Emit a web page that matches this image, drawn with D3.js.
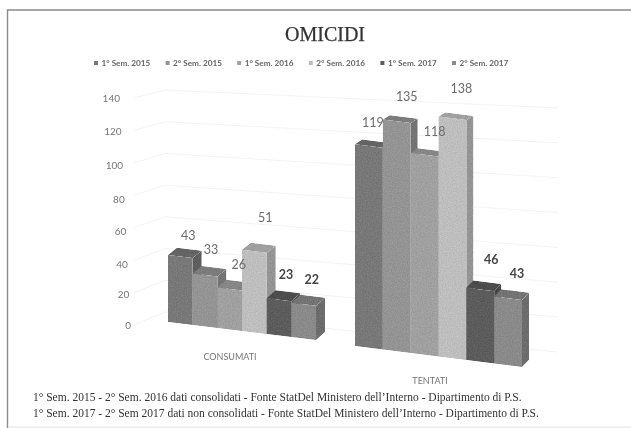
<!DOCTYPE html>
<html><head><meta charset="utf-8">
<script src="https://cdn.jsdelivr.net/npm/d3@7"></script>
<style>html,body{margin:0;padding:0;background:#fff}svg{display:block}</style>
</head><body><script>
const chartTitle = "OMICIDI";
const categories = ["CONSUMATI", "TENTATI"];
const seriesNames = ["1° Sem. 2015", "2° Sem. 2015", "1° Sem. 2016", "2° Sem. 2016", "1° Sem. 2017", "2° Sem. 2017"];
const consumati = [43, 33, 26, 51, 23, 22];
const tentati = [119, 135, 118, 138, 46, 43];
const tickValues = [0, 20, 40, 60, 80, 100, 120, 140];
const footnotes = [
  "1° Sem. 2015 - 2° Sem. 2016 dati consolidati - Fonte StatDel Ministero dell’Interno - Dipartimento di P.S.",
  "1° Sem. 2017 - 2° Sem 2017 dati non consolidati - Fonte StatDel Ministero dell’Interno - Dipartimento di P.S."
];

const W = 631, H = 428;
const front = ["#787878", "#949494", "#a0a0a0", "#bebebe", "#5c5c5c", "#8a8a8a"];
const boldLabel = [false, false, false, false, true, true];
const sans = "Lato, 'Open Sans', sans-serif", serif = "'Liberation Serif', serif";

const svg = d3.select("body").append("svg").attr("width", W).attr("height", H);
const defs = svg.append("defs");
const f = defs.append("filter").attr("id", "scan").attr("x", 0).attr("y", 0).attr("width", 1).attr("height", 1);
f.append("feGaussianBlur").attr("stdDeviation", 0.45);
const n = defs.append("filter").attr("id", "grain").attr("x", 0).attr("y", 0).attr("width", 1).attr("height", 1)
  .attr("color-interpolation-filters", "sRGB");
n.append("feTurbulence").attr("type", "fractalNoise").attr("baseFrequency", 0.8).attr("numOctaves", 2).attr("seed", 4).attr("result", "t");
n.append("feColorMatrix").attr("in", "t").attr("type", "matrix")
  .attr("values", "1 0 0 0 0  1 0 0 0 0  1 0 0 0 0  0 0 0 0 1").attr("result", "g");
n.append("feComposite").attr("in", "SourceGraphic").attr("in2", "g").attr("operator", "arithmetic")
  .attr("k1", 0).attr("k2", 1).attr("k3", 0.12).attr("k4", -0.06).attr("result", "m");
n.append("feComposite").attr("in", "m").attr("in2", "SourceAlpha").attr("operator", "in");

const root = svg.append("g").attr("filter", "url(#scan)");
root.append("rect").attr("width", W).attr("height", H).attr("fill", "#fff");
root.append("path").attr("d", d3.line()([[7.5, 428], [7.5, 10], [631, 10]]))
  .attr("fill", "none").attr("stroke", "#8c8c8c").attr("stroke-width", 1.4);
root.append("path").attr("d", d3.line()([[8, 427], [631, 427]]))
  .attr("fill", "none").attr("stroke", "#e2e2e2").attr("stroke-width", 1);

root.append("text").attr("x", 325).attr("y", 41).attr("text-anchor", "middle")
  .attr("font-family", serif).attr("font-size", 20).attr("fill", "#333")
  .attr("stroke", "#333").attr("stroke-width", 0.25).text(chartTitle);

// legend
const legendX = d3.scalePoint().domain(seriesNames).range([94, 452]);
const lg = root.append("g").selectAll("g").data(seriesNames).join("g")
  .attr("transform", d => `translate(${legendX(d)},63)`);
lg.append("rect").attr("x", 0).attr("y", -2).attr("width", 4).attr("height", 4).attr("fill", (d, i) => front[i]);
lg.append("text").attr("x", 7.5).attr("y", 3).attr("font-family", sans).attr("font-size", 8.2)
  .attr("font-weight", 700).attr("fill", "#666").text(d => d);

// value axis labels (slightly non-linear, the original is a perspective view)
const yTick = d3.scaleLinear().domain([0, 40, 80, 140]).range([325, 264, 199, 98]);
const xTick = d3.scaleLinear().domain([0, 140]).range([131, 120]);
root.append("g").selectAll("text").data(tickValues).join("text")
  .attr("x", d => xTick(d)).attr("y", d => yTick(d) + 3.5).attr("text-anchor", "end")
  .attr("font-family", sans).attr("font-size", 10).attr("fill", "#777").text(d => d);

// gridlines on side wall and back wall
const wallLeft = d3.scaleLinear().domain([0, 140]).range([325, 98]);
const backLeft = d3.scaleLinear().domain([0, 140]).range([312, 90]);
const backRight = d3.scaleLinear().domain([0, 140]).range([352, 108]);
const grid = root.append("g").attr("fill", "none").attr("stroke", "#f3f3f3").attr("stroke-width", 1);
grid.selectAll("path").data(tickValues).join("path")
  .attr("d", d => d3.line()([[134, wallLeft(d)], [165, backLeft(d)], [558, backRight(d)]]));

// bars in a perspective projection
const groups = [
  {name: categories[0], values: consumati, x0: 168, x1: 316, base0: 322, base1: 340, dx: 9, labelX: 230, labelY: 360,
   labelDx: [8, 6, 9, 11, 7, 8], labelDy: [-20, -24, -23, -32, -24, -23]},
  {name: categories[1], values: tentati, x0: 355, x1: 522, base0: 346, base1: 367, dx: 7, labelX: 430, labelY: 384,
   labelDx: [4, 10, 10, 9, 11, 9], labelDy: [-22, -23, -22, -28, -28, -23]}
];
const barH = d3.scaleLinear().domain([0, 43, 118, 135, 138]).range([0, 67, 200, 230, 240]);
const depthY = d3.scaleLinear().domain([20, 140]).range([8, 4]);

groups.forEach(g => {
  const x = d3.scaleBand().domain(d3.range(g.values.length)).range([g.x0, g.x1]);
  const base = d3.scaleLinear().domain([g.x0, g.x1]).range([g.base0, g.base1]);
  const bars = root.append("g").attr("filter", "url(#grain)").selectAll("g").data(g.values).join("g");
  const geom = (v, i) => {
    const xa = x(i), xb = xa + x.bandwidth(), h = barH(v), dy = depthY(v);
    return {xa, xb, ya: base(xa), yb: base(xb), ta: base(xa) - h, tb: base(xb) - h, dx: g.dx, dy};
  };
  const poly = pts => "M" + pts.map(p => p.join(",")).join("L") + "Z";
  bars.append("path").attr("fill", (v, i) => d3.color(front[i]).darker(0.7))
    .attr("d", (v, i) => { const b = geom(v, i);
      return poly([[b.xb, b.yb], [b.xb + b.dx, b.yb - b.dy], [b.xb + b.dx, b.tb - b.dy], [b.xb, b.tb]]); });
  bars.append("path").attr("fill", (v, i) => d3.color(front[i]).darker(0.5))
    .attr("d", (v, i) => { const b = geom(v, i);
      return poly([[b.xa, b.ta], [b.xa + b.dx, b.ta - b.dy], [b.xb + b.dx, b.tb - b.dy], [b.xb, b.tb]]); });
  bars.append("path").attr("fill", (v, i) => front[i])
    .attr("d", (v, i) => { const b = geom(v, i);
      return poly([[b.xa, b.ya], [b.xa, b.ta], [b.xb, b.tb], [b.xb, b.yb]]); });
  root.append("g").selectAll("text").data(g.values).join("text")
    .attr("x", (v, i) => x(i) + x.bandwidth() / 2 + g.labelDx[i])
    .attr("y", (v, i) => base(x(i)) - barH(v) + g.labelDy[i] + 4.5)
    .attr("text-anchor", "middle").attr("font-family", sans).attr("font-size", 12.5)
    .attr("font-weight", (v, i) => boldLabel[i] ? 700 : 400)
    .attr("fill", (v, i) => boldLabel[i] ? "#444" : "#6c6c6c").text(v => v);
  root.append("text").attr("x", g.labelX).attr("y", g.labelY).attr("text-anchor", "middle")
    .attr("font-family", sans).attr("font-size", 9).attr("fill", "#777").text(g.name);
});

root.append("g").selectAll("text").data(footnotes).join("text")
  .attr("x", 33).attr("y", (d, i) => 401 + i * 15.5).attr("font-family", serif)
  .attr("font-size", 11.5).attr("fill", "#333").text(d => d);
</script></body></html>
